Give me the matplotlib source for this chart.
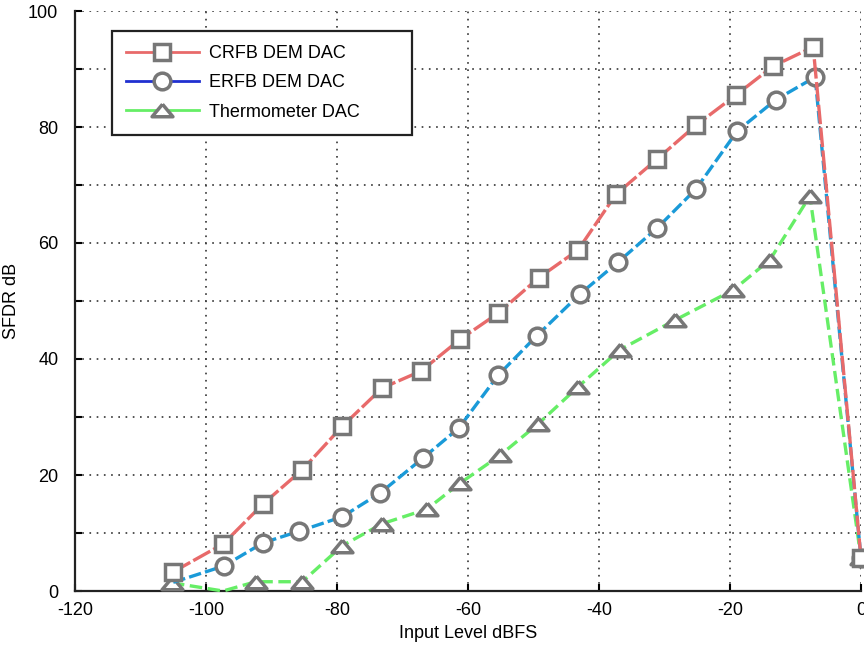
import matplotlib.pyplot as plt
from matplotlib.lines import Line2D
from matplotlib.ticker import MultipleLocator

plt.rcParams['font.family'] = ['Liberation Sans', 'DejaVu Sans']
plt.rcParams['lines.scale_dashes'] = False
plt.rcParams['axes.unicode_minus'] = False

# datos
crfb_x = [-105, -97.4, -91.3, -85.3, -79.2, -73.1, -67.2, -61.2, -55.4, -49.2,
          -43.2, -37.4, -31.1, -25.2, -19.1, -13.4, -7.3, 0]
crfb_y = [3.3, 8.1, 15.0, 20.9, 28.4, 35.0, 37.9, 43.4, 47.9, 54.0,
          58.8, 68.4, 74.5, 80.3, 85.5, 90.5, 93.8, 5.7]

erfb_x = [-105, -97.3, -91.3, -85.8, -79.2, -73.4, -66.9, -61.4, -55.4, -49.5,
          -42.9, -37.1, -31.1, -25.2, -18.9, -13.0, -7.0, 0]
erfb_y = [1.5, 4.3, 8.3, 10.3, 12.8, 16.9, 22.9, 28.1, 37.2, 44.0,
          51.2, 56.7, 62.6, 69.3, 79.3, 84.7, 88.6, 5.7]

thermo_x = [-105.2, -97.4, -92.4, -85.3, -79.2, -73.1, -66.3, -61.2, -55.1, -49.3,
            -43.2, -36.8, -28.4, -19.5, -13.9, -7.8, 0]
thermo_y = [1.4, 0, 1.6, 1.6, 7.8, 11.6, 14.1, 18.6, 23.4, 28.8,
            35.2, 41.6, 46.7, 51.9, 57.1, 68.1, 5.7]

labels = ['CRFB DEM DAC', 'ERFB DEM DAC', 'Thermometer DAC']

gris = '#777777'
tri = [(0, 0.6), (-1, -0.6), (1, -0.6), (0, 0.6)]

fig = plt.figure(figsize=(8.64, 6.47), dpi=100)
ax = fig.add_axes([75/864, 1-591/647, (861-75)/864, (591-11)/647])

ax.plot(thermo_x, thermo_y, color='#66ee66', lw=2.4, linestyle=(0, (9, 4)),
        marker=tri, ms=15, mec=gris, mfc='white', mew=2.5,
        markevery=[i for i in range(len(thermo_x)) if i != 1], clip_on=False, zorder=3)
ax.plot(erfb_x, erfb_y, color='#1a9ad8', lw=2.4, linestyle=(0, (9, 3)),
        marker='o', ms=12, mec=gris, mfc='white', mew=2.5,
        markevery=list(range(1, len(erfb_x))), clip_on=False, zorder=4)
ax.plot(crfb_x, crfb_y, color='#e86a6a', lw=2.4, linestyle=(0, (14, 2.5)),
        marker='s', ms=11, mec=gris, mfc='white', mew=2.5, clip_on=False, zorder=5)

ax.set_xlim(-120, 0)
ax.set_ylim(0, 100)
ax.set_xticks(range(-120, 1, 20))
ax.yaxis.set_major_locator(MultipleLocator(20))
ax.yaxis.set_minor_locator(MultipleLocator(10))

ax.grid(True, which='major', color='#444444', lw=1.3, linestyle=(0, (1.2, 4)))
ax.grid(True, which='minor', axis='y', color='#444444', lw=1.3, linestyle=(0, (1.2, 4)))

for s in ['top', 'right']:
    ax.spines[s].set_visible(False)
for s in ['left', 'bottom']:
    ax.spines[s].set_linewidth(1.6)
    ax.spines[s].set_color('#222222')

ax.tick_params(axis='both', which='both', direction='in', length=5, width=1.5, labelsize=13)
ax.tick_params(axis='y', pad=12)
ax.tick_params(axis='x', pad=8)

ax.set_xlabel('Input Level dBFS', fontsize=13, labelpad=4)
ax.set_ylabel('SFDR dB', fontsize=13)
ax.yaxis.set_label_coords(-0.07, 0.5)

handles = [
    Line2D([], [], color='#e86a6a', lw=2, marker='s', ms=11, mec=gris, mfc='white', mew=2.5),
    Line2D([], [], color='#2030d0', lw=2, marker='o', ms=12, mec=gris, mfc='white', mew=2.5),
    Line2D([], [], color='#66ee66', lw=2, marker=tri, ms=15, mec=gris, mfc='white', mew=2.5),
]
leg = ax.legend(handles, labels, loc='upper left', bbox_to_anchor=(0.047, 0.766, 0.382, 0.2),
                mode='expand', borderaxespad=0, fontsize=13, handlelength=4.0,
                handletextpad=0.6, labelspacing=0.68, borderpad=0.8, fancybox=False,
                framealpha=1, edgecolor='#222222')
leg.get_frame().set_linewidth(1.6)

fig.savefig('out.png', dpi=100)
